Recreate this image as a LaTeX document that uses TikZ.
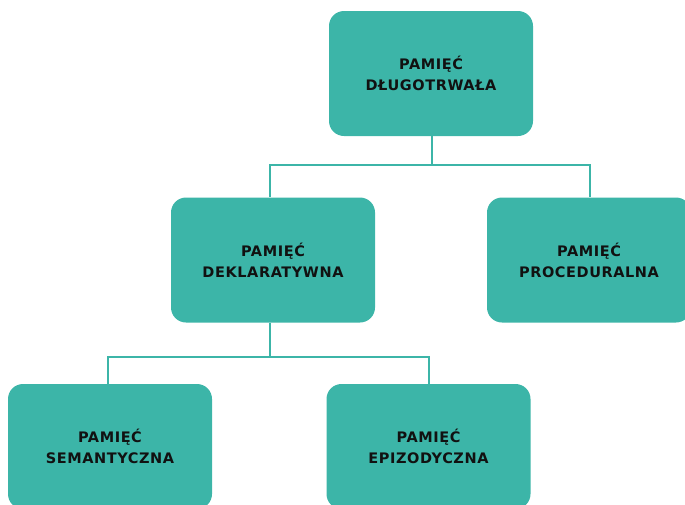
\documentclass[tikz,border=0pt]{standalone}
\usepackage{fontspec}
\setmainfont{DejaVu Sans}[LetterSpace=4]
\definecolor{teal1}{HTML}{3CB5A8}
\definecolor{ink}{HTML}{111111}
\begin{document}
\begin{tikzpicture}[x=1pt,y=-1pt,
  membox/.style={fill=teal1, rounded corners=15pt, minimum width=204pt, minimum height=125pt,
    align=center, text=ink, font=\fontsize{14.5}{21}\selectfont\bfseries, inner sep=0pt},
  link/.style={draw=teal1, line width=2pt}]
\useasboundingbox (0,0) rectangle (685,504);
\clip (0,0) rectangle (685,504);
\node[membox] (top) at (431,73.5) {PAMIĘĆ\\DŁUGOTRWAŁA};
\node[membox] (ml) at (273,260) {PAMIĘĆ\\DEKLARATYWNA};
\node[membox] (mr) at (589,260) {PAMIĘĆ\\PROCEDURALNA};
\node[membox] (bl) at (110,446.5) {PAMIĘĆ\\SEMANTYCZNA};
\node[membox] (bm) at (428.5,446.5) {PAMIĘĆ\\EPIZODYCZNA};
\coordinate (j1) at (431.5,165);
\coordinate (j2) at (270,357);
\draw[link] (j1 |- top.south) -- (j1);
\draw[link] (j1) -| ([xshift=-3pt]ml.north);
\draw[link] (j1) -| ([xshift=1pt]mr.north);
\draw[link] (j2 |- ml.south) -- (j2);
\draw[link] (j2) -| ([xshift=-2pt]bl.north);
\draw[link] (j2) -| (bm.north);
\end{tikzpicture}
\end{document}
